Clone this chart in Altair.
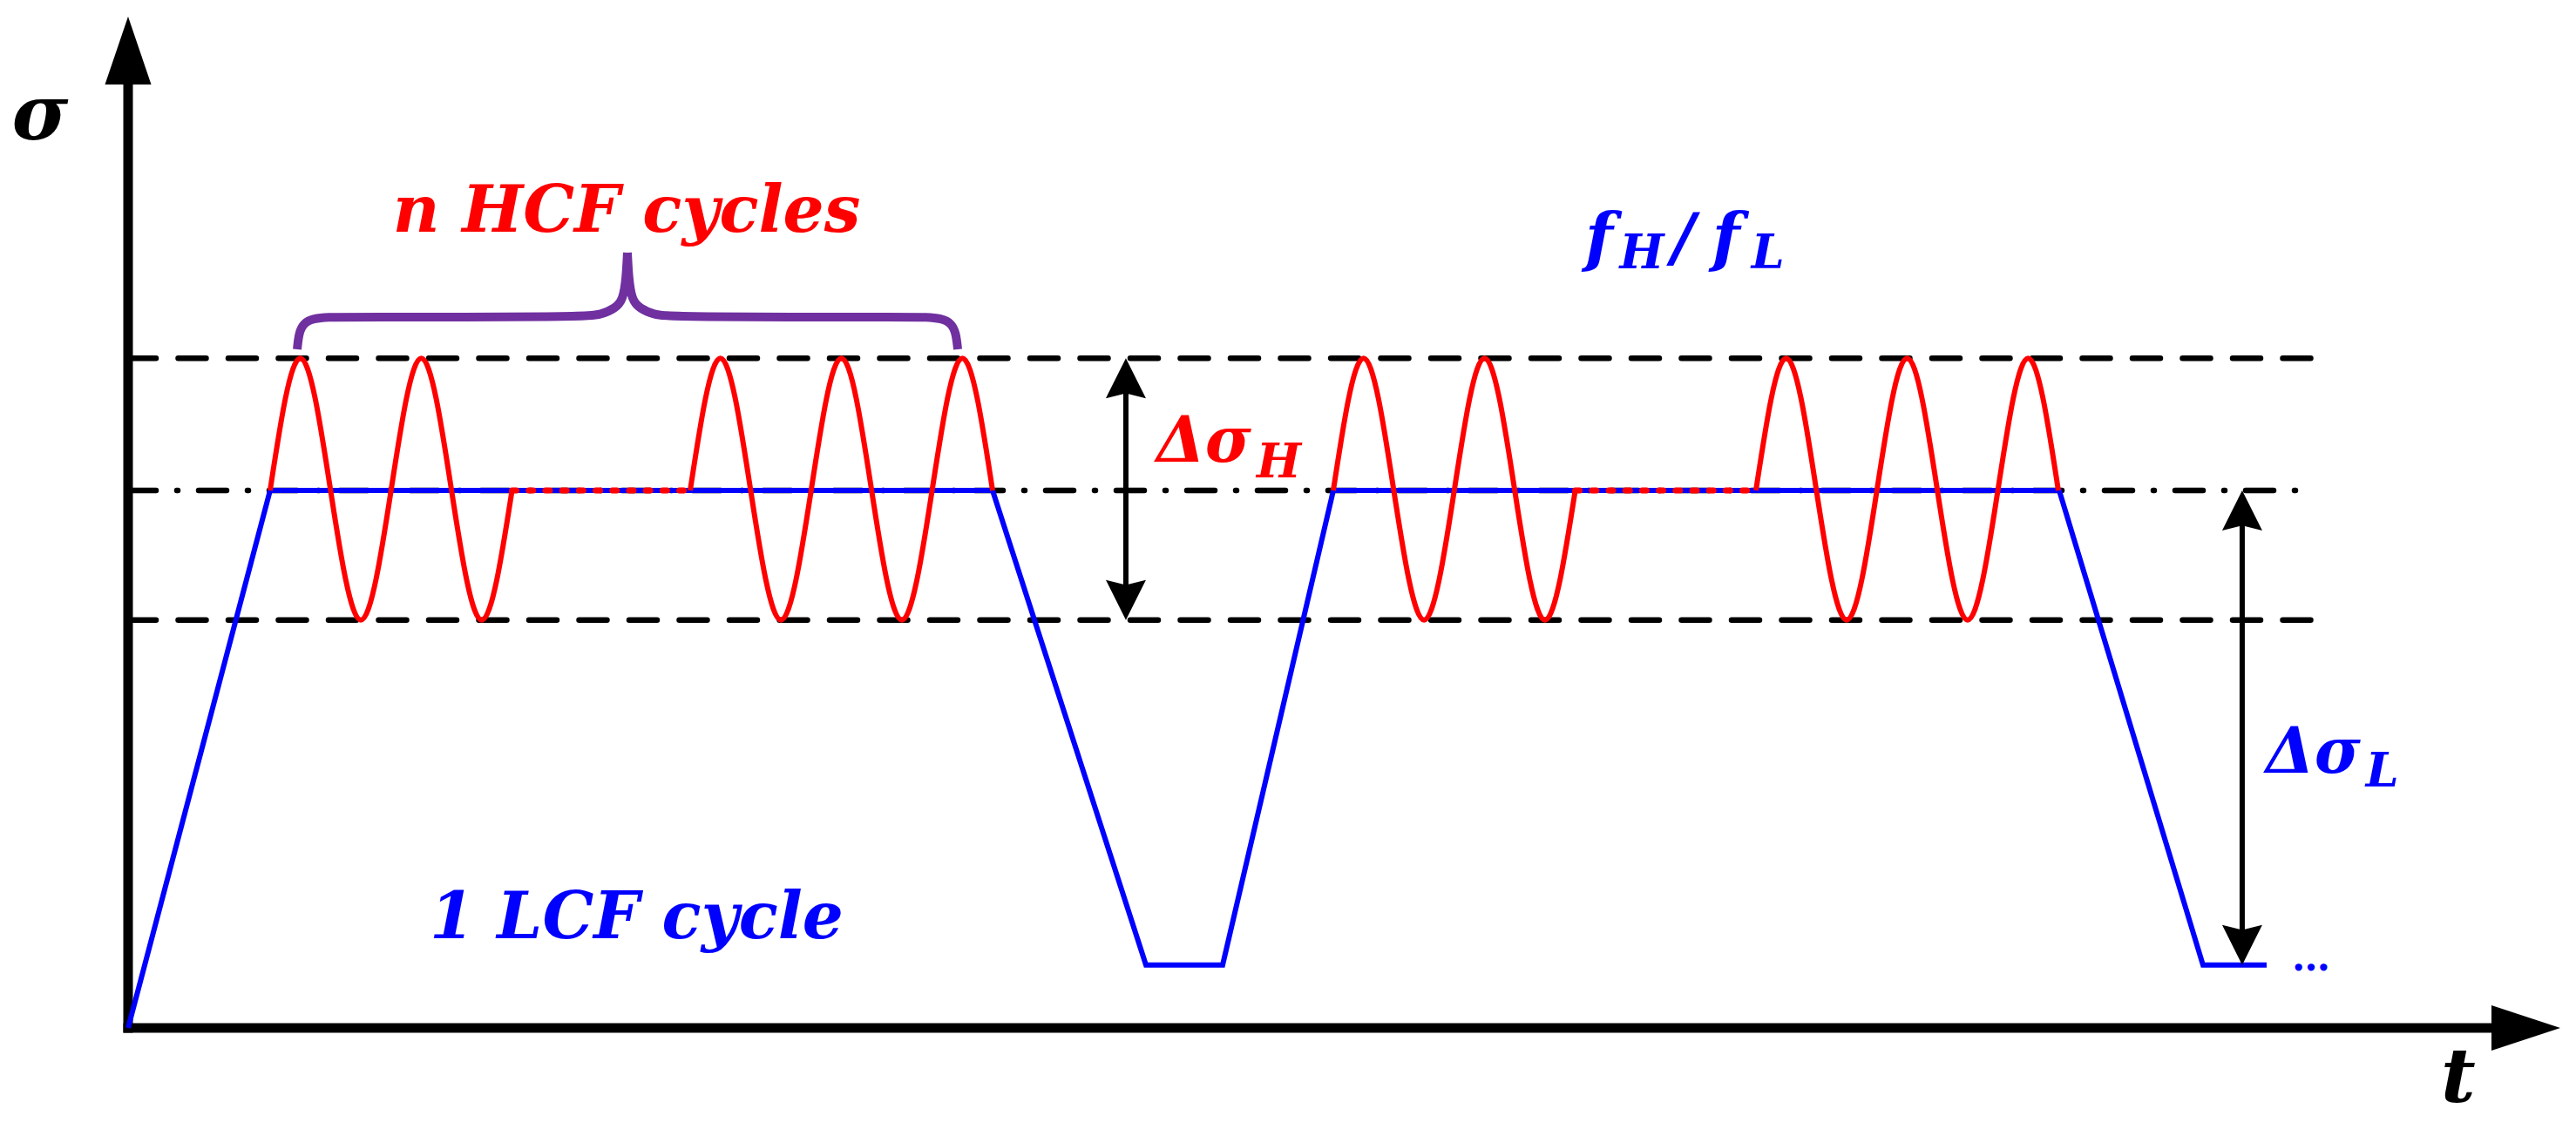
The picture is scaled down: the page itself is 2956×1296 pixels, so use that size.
import altair as alt
import pandas as pd

# ------------------------------------------------------------------
# Data (t in HCF-period units, sigma normalised so that LCF max = 1)
# ------------------------------------------------------------------
# LCF (blue) trapezoidal loading path
lcf_t = [0.0, 1.174, 7.147, 8.415, 9.049, 9.964, 15.965, 17.154, 17.680]
lcf_s = [0.0, 1.0, 1.0, 0.117, 0.117, 1.0, 1.0, 0.117, 0.117]

# HCF (red) superimposed cycles: crossings, peaks and troughs
hcf_a_t = [1.174, 1.424, 1.674, 1.924, 2.174, 2.424, 2.674, 2.924, 3.174]
hcf_a_s = [1.0, 1.246, 1.0, 0.759, 1.0, 1.246, 1.0, 0.759, 1.0]
hcf_b_t = [4.647, 4.897, 5.147, 5.397, 5.647, 5.897, 6.147, 6.397, 6.647, 6.897, 7.147]
hcf_b_s = [1.0, 1.246, 1.0, 0.759, 1.0, 1.246, 1.0, 0.759, 1.0, 1.246, 1.0]
hcf_c_t = [9.964, 10.214, 10.464, 10.714, 10.964, 11.214, 11.464, 11.714, 11.964]
hcf_c_s = [1.0, 1.246, 1.0, 0.759, 1.0, 1.246, 1.0, 0.759, 1.0]
hcf_d_t = [13.458, 13.708, 13.958, 14.208, 14.458, 14.708, 14.958, 15.208, 15.458, 15.708, 15.958]
hcf_d_s = [1.0, 1.246, 1.0, 0.759, 1.0, 1.246, 1.0, 0.759, 1.0, 1.246, 1.0]

# omitted HCF cycles (red dotted)
gap_t0 = [3.174, 11.964]
gap_t1 = [4.647, 13.458]
gap_s = [1.0, 1.0]

# reference levels
dash_levels = [1.246, 0.759]
dashdot_levels = [1.0]
ref_t0 = 0.0
ref_t1_dash = 18.08
ref_t1_dashdot = 18.05

# brace over the n HCF cycles
brace_left_t = [1.398, 1.412, 1.450, 1.530, 1.664, 1.787, 3.768, 3.912, 4.027, 4.092, 4.117, 4.128]
brace_left_s = [1.2626, 1.2934, 1.3110, 1.3200, 1.3225, 1.3225, 1.3225, 1.3274, 1.3387, 1.3549, 1.3938, 1.4425]
brace_right_t = [4.128, 4.139, 4.164, 4.229, 4.344, 4.488, 6.470, 6.592, 6.726, 6.806, 6.844, 6.859]
brace_right_s = [1.4425, 1.3938, 1.3549, 1.3387, 1.3274, 1.3225, 1.3225, 1.3225, 1.3200, 1.3110, 1.2934, 1.2626]

# axes and range arrows
axis_y_tip = 1.8817
axis_x_tip = 20.108
dsH_t, dsH_lo, dsH_hi = 8.249, 0.759, 1.246
dsL_t, dsL_lo, dsL_hi = 17.478, 0.117, 1.0

# text labels
labels_main = [
    ("n HCF cycles", 4.121, 1.481, "#FF0000", "center"),
    ("1 LCF cycle", 4.204, 0.167, "#0000FF", "center"),
    ("f", 12.046, 1.4295, "#0000FF", "left"),
    ("/", 12.760, 1.4295, "#0000FF", "left"),
    ("f", 13.096, 1.4295, "#0000FF", "left"),
]
labels_delta = [
    ("Δσ", 8.501, 1.0535, "#FF0000"),
    ("Δσ", 17.673, 0.4749, "#0000FF"),
]
labels_sub = [
    ("H", 9.330, 1.0243, "#FF0000"),
    ("L", 18.500, 0.4489, "#0000FF"),
    ("H", 12.330, 1.4133, "#0000FF"),
    ("L", 13.420, 1.4133, "#0000FF"),
]
sigma_label = [("σ", -0.728, 1.653)]
t_label = [("t", 19.265, -0.167)]
ellipsis = [("…", 17.889, 0.107)]

# ------------------------------------------------------------------
# Layout calibration
# ------------------------------------------------------------------
W, H = 2936, 1276
xs = alt.Scale(domain=[-1.0014, 20.1513], nice=False, zero=False)
ys = alt.Scale(domain=[-0.1686, 1.8995], nice=False, zero=False)


def X(f="t"):
    return alt.X(f"{f}:Q", scale=xs, axis=None)


def Y(f="s"):
    return alt.Y(f"{f}:Q", scale=ys, axis=None)


# reference lines
dash_df = pd.DataFrame({"t0": ref_t0, "t1": ref_t1_dash, "s": dash_levels})
dashdot_df = pd.DataFrame({"t0": ref_t0, "t1": ref_t1_dashdot, "s": dashdot_levels})
dashed = alt.Chart(dash_df).mark_rule(
    color="black", strokeWidth=6.5, strokeDash=[32, 25.5], strokeCap="round"
).encode(x=X("t0"), x2=alt.X2("t1"), y=Y("s"))
dashdot = alt.Chart(dashdot_df).mark_rule(
    color="black", strokeWidth=6.5, strokeDash=[32, 24, 1, 24], strokeCap="round"
).encode(x=X("t0"), x2=alt.X2("t1"), y=Y("s"))

# axes
ax_y_df = pd.DataFrame({"t": [0.0], "s0": [0.0], "s1": [axis_y_tip]})
ax_x_df = pd.DataFrame({"t0": [0.0], "t1": [axis_x_tip], "s": [0.0]})
ax_y = alt.Chart(ax_y_df).mark_rule(
    color="black", strokeWidth=11, strokeCap="square", y2Offset=60
).encode(x=X("t"), y=Y("s0"), y2=alt.Y2("s1"))
ax_x = alt.Chart(ax_x_df).mark_rule(
    color="black", strokeWidth=11, strokeCap="square", x2Offset=-60
).encode(x=X("t0"), x2=alt.X2("t1"), y=Y("s"))
ax_y_head = alt.Chart(pd.DataFrame({"t": [0.0], "s": [axis_y_tip]})).mark_point(
    shape="M0,0L0.68,2L-0.68,2Z", size=6084, filled=True, opacity=1, color="black", strokeWidth=0
).encode(x=X("t"), y=Y("s"))
ax_x_head = alt.Chart(pd.DataFrame({"t": [axis_x_tip], "s": [0.0]})).mark_point(
    shape="M0,0L-2,-0.66L-2,0.66Z", size=6241, filled=True, opacity=1, color="black", strokeWidth=0
).encode(x=X("t"), y=Y("s"))

# LCF path
lcf_df = pd.DataFrame({"t": lcf_t, "s": lcf_s})
lcf = alt.Chart(lcf_df).mark_line(color="#0000FF", strokeWidth=6, strokeJoin="miter").encode(
    x=X("t"), y=Y("s"), order="t:Q"
)

# HCF waves
hcf_rows = []
for name, ts, ss in [("a", hcf_a_t, hcf_a_s), ("b", hcf_b_t, hcf_b_s),
                     ("c", hcf_c_t, hcf_c_s), ("d", hcf_d_t, hcf_d_s)]:
    for t, s in zip(ts, ss):
        hcf_rows.append({"blk": name, "t": t, "s": s})
hcf_df = pd.DataFrame(hcf_rows)
hcf = alt.Chart(hcf_df).mark_line(color="#FF0000", strokeWidth=6, interpolate="natural").encode(
    x=X("t"), y=Y("s"), detail="blk:N", order="t:Q"
)

gap_df = pd.DataFrame({"t0": gap_t0, "t1": gap_t1, "s": gap_s})
gaps = alt.Chart(gap_df).mark_rule(
    color="#FF0000", strokeWidth=7, strokeDash=[5, 14.2], strokeCap="round"
).encode(x=X("t0"), x2=alt.X2("t1"), y=Y("s"))

# brace
brace_rows = [{"half": "L", "i": i, "t": t, "s": s}
              for i, (t, s) in enumerate(zip(brace_left_t, brace_left_s))]
brace_rows += [{"half": "R", "i": i, "t": t, "s": s}
               for i, (t, s) in enumerate(zip(brace_right_t, brace_right_s))]
brace_df = pd.DataFrame(brace_rows)
brace = alt.Chart(brace_df).mark_line(
    color="#7030A0", strokeWidth=10, interpolate="basis", strokeCap="butt"
).encode(x=X("t"), y=Y("s"), detail="half:N", order="i:Q")

# range arrows
rng_df = pd.DataFrame({"t": [dsH_t, dsL_t], "lo": [dsH_lo, dsL_lo], "hi": [dsH_hi, dsL_hi]})
rng_shaft = alt.Chart(rng_df).mark_rule(
    color="black", strokeWidth=6, yOffset=-30, y2Offset=30
).encode(x=X("t"), y=Y("lo"), y2=alt.Y2("hi"))
rng_up = alt.Chart(rng_df).mark_point(
    shape="M0,0L1,2L0,1.75L-1,2Z", size=2116, filled=True, opacity=1, color="black", strokeWidth=0
).encode(x=X("t"), y=Y("hi"))
rng_dn = alt.Chart(rng_df).mark_point(
    shape="M0,0L1,-2L0,-1.75L-1,-2Z", size=2116, filled=True, opacity=1, color="black", strokeWidth=0
).encode(x=X("t"), y=Y("lo"))

FONT = "DejaVu Serif"

main_df = pd.DataFrame(labels_main, columns=["txt", "t", "s", "col", "al"])
text_layers = []
for al in ["center", "left"]:
    sub = main_df[main_df["al"] == al]
    text_layers.append(
        alt.Chart(sub).mark_text(
            font=FONT, fontSize=74, fontStyle="italic", fontWeight="bold",
            align=al, baseline="alphabetic"
        ).encode(x=X("t"), y=Y("s"), text="txt:N", color=alt.Color("col:N", scale=None))
    )

delta_df = pd.DataFrame(labels_delta, columns=["txt", "t", "s", "col"])
text_layers.append(
    alt.Chart(delta_df).mark_text(
        font=FONT, fontSize=72, fontStyle="italic", fontWeight="bold",
        align="left", baseline="alphabetic"
    ).encode(x=X("t"), y=Y("s"), text="txt:N", color=alt.Color("col:N", scale=None))
)

sub_df = pd.DataFrame(labels_sub, columns=["txt", "t", "s", "col"])
text_layers.append(
    alt.Chart(sub_df).mark_text(
        font=FONT, fontSize=54, fontStyle="italic", fontWeight="bold",
        align="left", baseline="alphabetic"
    ).encode(x=X("t"), y=Y("s"), text="txt:N", color=alt.Color("col:N", scale=None))
)

sig_df = pd.DataFrame(sigma_label, columns=["txt", "t", "s"])
text_layers.append(
    alt.Chart(sig_df).mark_text(
        font=FONT, fontSize=88, fontStyle="italic", fontWeight="bold",
        align="center", baseline="alphabetic", color="black"
    ).encode(x=X("t"), y=Y("s"), text="txt:N")
)

tl_df = pd.DataFrame(t_label, columns=["txt", "t", "s"])
text_layers.append(
    alt.Chart(tl_df).mark_text(
        font=FONT, fontSize=86, fontStyle="italic", fontWeight="bold",
        align="center", baseline="bottom", color="black"
    ).encode(x=X("t"), y=Y("s"), text="txt:N")
)

ell_df = pd.DataFrame(ellipsis, columns=["txt", "t", "s"])
text_layers.append(
    alt.Chart(ell_df).mark_text(
        font=FONT, fontSize=44, fontWeight="bold",
        align="left", baseline="alphabetic", color="#0000FF"
    ).encode(x=X("t"), y=Y("s"), text="txt:N")
)

chart = alt.layer(
    dashed, dashdot, ax_y, ax_x, ax_y_head, ax_x_head,
    lcf, hcf, gaps, brace, rng_shaft, rng_up, rng_dn, *text_layers
).properties(
    width=W, height=H, padding=0, background="white",
    autosize=alt.AutoSizeParams(type="none")
).configure_view(stroke=None)

chart.save("out.html", embed_options={"renderer": "svg", "actions": False})
